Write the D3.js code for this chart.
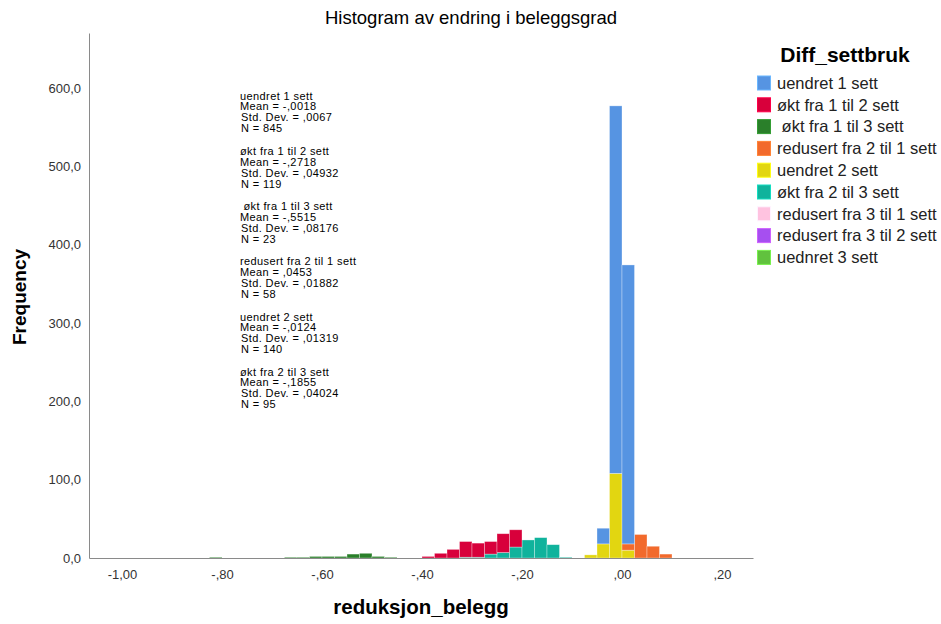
<!DOCTYPE html>
<html>
<head>
<meta charset="utf-8">
<script src="https://cdn.jsdelivr.net/npm/d3@7"></script>
<style>
  body { margin: 0; background: #fff; }
  svg { display: block; font-family: "Liberation Sans", Arial, sans-serif; }
</style>
</head>
<body>
<svg id="chart" width="941" height="624"></svg>
<script>
// legend groups + colours (legend order)
const groups = ["uendret 1 sett", "økt fra 1 til 2 sett", " økt fra 1 til 3 sett", "redusert fra 2 til 1 sett",
  "uendret 2 sett", "økt fra 2 til 3 sett", "redusert fra 3 til 1 sett", "redusert fra 3 til 2 sett", "uednret 3 sett"];
const colors = ["#5694e2", "#d8003b", "#2a7f2a", "#f26a2c", "#e2d611", "#10b39c", "#ffc3e0", "#a64ff0", "#61c23e"];

const binWidth = 0.025;

// [bin start, count] for each group
const uendret1 = [[-0.05, 20], [-0.025, 469], [0, 356]];
const okt12 = [[-0.4, 2], [-0.375, 6], [-0.35, 11], [-0.325, 20], [-0.3, 18], [-0.275, 16], [-0.25, 24], [-0.225, 22]];
const okt13 = [[-0.825, 1], [-0.675, 1], [-0.65, 1], [-0.625, 2], [-0.6, 2], [-0.575, 2], [-0.55, 5], [-0.525, 6], [-0.5, 2], [-0.475, 1]];
const red21 = [[0, 8], [0.025, 30], [0.05, 15], [0.075, 5]];
const uendret2 = [[-0.075, 4], [-0.05, 18], [-0.025, 108], [0, 10]];
const okt23 = [[-0.325, 1], [-0.3, 1], [-0.275, 5], [-0.25, 7], [-0.225, 14], [-0.2, 23], [-0.175, 26], [-0.15, 17], [-0.125, 1]];
const red31 = [];
const red32 = [];
const uednret3 = [];
const series = [uendret1, okt12, okt13, red21, uendret2, okt23, red31, red32, uednret3];

// ticks
const xTicks = [-1.0, -0.8, -0.6, -0.4, -0.2, 0.0, 0.2];
const xTickLabels = ["-1,00", "-,80", "-,60", "-,40", "-,20", ",00", ",20"];
const yTicks = [0, 100, 200, 300, 400, 500, 600];

// statistics text
const statGroups = ["uendret 1 sett", "økt fra 1 til 2 sett", " økt fra 1 til 3 sett", "redusert fra 2 til 1 sett", "uendret 2 sett", "økt fra 2 til 3 sett"];
const statMean = ["-,0018", "-,2718", "-,5515", ",0453", "-,0124", "-,1855"];
const statSD = [",0067", ",04932", ",08176", ",01882", ",01319", ",04024"];
const statN = [845, 119, 23, 58, 140, 95];

const svg = d3.select("#chart");

const x = d3.scaleLinear().domain([-1.066, 0.262]).range([89, 753]);
const y = d3.scaleLinear().domain([0, 670]).range([558, 33]);

// stack: bottom is the last legend entry
const base = new Map();
const rects = [];
for (let g = groups.length - 1; g >= 0; g--) {
  for (const [x0, n] of series[g]) {
    const key = x0.toFixed(3);
    const b = base.get(key) || 0;
    rects.push({ g, x0, y0: b, y1: b + n });
    base.set(key, b + n);
  }
}

svg.append("g").selectAll("rect")
  .data(rects)
  .join("rect")
  .attr("x", d => x(d.x0))
  .attr("width", d => x(d.x0 + binWidth) - x(d.x0))
  .attr("y", d => y(d.y1))
  .attr("height", d => y(d.y0) - y(d.y1))
  .attr("fill", d => colors[d.g])
  .attr("stroke", "rgba(255,255,255,0.45)")
  .attr("stroke-width", 0.7);

// axes
const yAxis = svg.append("g")
  .attr("transform", "translate(89,0)")
  .call(d3.axisLeft(y).tickValues(yTicks).tickSize(0).tickPadding(8)
    .tickFormat(d => d3.format(".1f")(d).replace(".", ",")));
yAxis.select(".domain").attr("stroke", "#8a8a8a");

const xAxis = svg.append("g")
  .attr("transform", "translate(0,558)")
  .call(d3.axisBottom(x).tickValues(xTicks).tickSize(0).tickPadding(12)
    .tickFormat((d, i) => xTickLabels[i]));
xAxis.select(".domain").attr("stroke", "#8a8a8a");

svg.selectAll(".tick text")
  .attr("font-size", 13)
  .attr("font-family", "Liberation Sans, Arial, sans-serif")
  .attr("fill", "#333");

// titles
svg.append("text")
  .attr("x", 471).attr("y", 24)
  .attr("text-anchor", "middle")
  .attr("font-size", 18.5)
  .text("Histogram av endring i beleggsgrad");

svg.append("text")
  .attr("transform", "translate(26,297) rotate(-90)")
  .attr("text-anchor", "middle")
  .attr("font-size", 19)
  .attr("font-weight", "bold")
  .text("Frequency");

svg.append("text")
  .attr("x", 421).attr("y", 614)
  .attr("text-anchor", "middle")
  .attr("font-size", 20.5)
  .attr("font-weight", "bold")
  .text("reduksjon_belegg");

// statistics annotation
const lineOff = [0, 10.5, 21.5, 32.5];
const stats = svg.append("g")
  .attr("font-size", 11)
  .attr("letter-spacing", 0.4)
  .style("white-space", "pre");
statGroups.forEach((s, i) => {
  const top = 96 + i * 55.2;
  const lines = [s, "Mean = " + statMean[i], "Std. Dev. = " + statSD[i], "N = " + statN[i]];
  lines.forEach((t, j) => {
    stats.append("text")
      .attr("x", j > 1 ? 241 : 240)
      .attr("y", top + lineOff[j])
      .attr("dy", "0.35em")
      .attr("xml:space", "preserve")
      .text(t);
  });
});

// legend
svg.append("text")
  .attr("x", 845).attr("y", 62)
  .attr("text-anchor", "middle")
  .attr("font-size", 21)
  .attr("font-weight", "bold")
  .text("Diff_settbruk");

const legend = svg.append("g");
groups.forEach((gname, i) => {
  const cy = 83 + i * 21.8;
  legend.append("rect")
    .attr("x", 757.5).attr("y", cy - 7)
    .attr("width", 13).attr("height", 14)
    .attr("fill", colors[i])
    .attr("stroke", d3.color(colors[i]).brighter(0.6))
    .attr("stroke-width", 1);
  legend.append("text")
    .attr("x", 777).attr("y", cy)
    .attr("dy", "0.35em")
    .attr("font-size", 16.5)
    .attr("fill", "#222")
    .style("white-space", "pre")
    .text(gname);
});
</script>
</body>
</html>
